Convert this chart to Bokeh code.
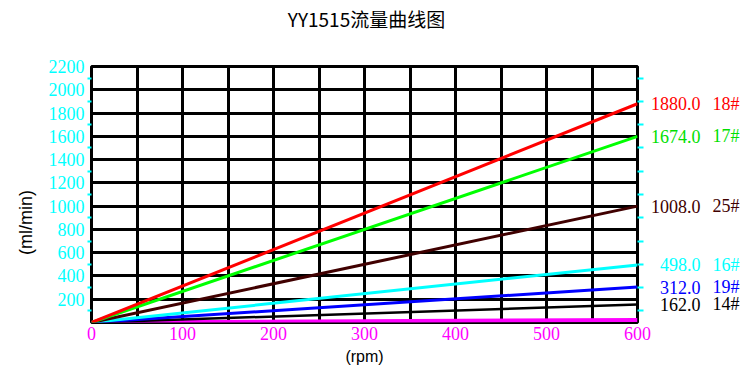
import math
from bokeh.plotting import figure
from bokeh.models import Range1d, FixedTicker, LinearAxis, ColumnDataSource
from bokeh.core.properties import value
from bokeh.embed import file_html
from bokeh.resources import INLINE

# ---- data ----
title_text = "YY1515流量曲线图"
y_label = "(ml/min)"
x_label = "(rpm)"

rpm = [0, 600]
red_18 = [0, 1880]
green_17 = [0, 1600]
brown_25 = [0, 1000]
cyan_16 = [0, 495]
blue_19 = [0, 305]
black_14 = [0, 155]
magenta = [0, 22]

end_values = [1880, 1600, 1000, 495, 305, 155]
flow_labels = ["1880.0", "1674.0", "1008.0", "498.0", "312.0", "162.0"]
model_labels = ["18#", "17#", "25#", "16#", "19#", "14#"]
label_colors = ["#ff0000", "#00e000", "#400000", "#00ffff", "#0000ff", "#000000"]

x_ticks = [0, 100, 200, 300, 400, 500, 600]
x_grid = list(range(0, 601, 50))
y_ticks = list(range(200, 2201, 200))
y_grid = list(range(0, 2201, 200))
y_minor = list(range(100, 2200, 200))

x_min, x_max = 0, 600
y_min, y_max = 0, 2200

p = figure(width=744, height=375, x_range=Range1d(x_min, x_max), y_range=Range1d(y_min, y_max),
           output_backend="svg", toolbar_location=None,
           min_border_left=91, min_border_right=107, min_border_top=66, min_border_bottom=53)

p.outline_line_color = "black"
p.outline_line_width = 3
p.outline_line_alpha = 1

# grids
p.xgrid.ticker = FixedTicker(ticks=x_grid)
p.ygrid.ticker = FixedTicker(ticks=y_grid)
for g in (p.xgrid, p.ygrid):
    g.grid_line_color = "black"
    g.grid_line_width = 3
    g.grid_line_alpha = 1

# x axis
xa = p.xaxis[0]
xa.ticker = FixedTicker(ticks=x_ticks)
xa.axis_line_color = None
xa.major_tick_line_color = None
xa.major_tick_out = 0
xa.major_tick_in = 0
xa.minor_tick_line_color = None
xa.minor_tick_out = 0
xa.major_label_text_color = "#ff00ff"
xa.major_label_text_font = "Liberation Serif"
xa.major_label_text_font_size = "18px"
xa.major_label_standoff = 4
xa.axis_label = x_label
xa.axis_label_text_font = "Liberation Sans"
xa.axis_label_text_font_size = "16px"
xa.axis_label_text_font_style = "normal"
xa.axis_label_text_color = "black"
xa.axis_label_standoff = 5

# y axis (left)
ya = p.yaxis[0]
ya.ticker = FixedTicker(ticks=y_ticks, minor_ticks=y_minor)
ya.axis_line_color = None
ya.major_tick_line_color = None
ya.major_tick_out = 0
ya.major_tick_in = 0
ya.minor_tick_line_color = "#00ffff"
ya.minor_tick_line_width = 2
ya.minor_tick_out = 4
ya.minor_tick_in = 0
ya.major_label_text_color = "#00ffff"
ya.major_label_text_font = "Liberation Serif"
ya.major_label_text_font_size = "18px"
ya.major_label_standoff = 3

# right axis with cyan ticks only
ra = LinearAxis(ticker=FixedTicker(ticks=[], minor_ticks=y_minor))
ra.axis_line_color = None
ra.major_tick_line_color = None
ra.minor_tick_line_color = "#00ffff"
ra.minor_tick_line_width = 2
ra.minor_tick_out = 6
ra.minor_tick_in = 0
p.add_layout(ra, "right")

# lines
p.line(rpm, magenta, line_color="#ff00ff", line_width=4)
p.line(rpm, black_14, line_color="#000000", line_width=2.5)
p.line(rpm, blue_19, line_color="#0000ff", line_width=3)
p.line(rpm, cyan_16, line_color="#00ffff", line_width=3)
p.line(rpm, brown_25, line_color="#400000", line_width=3)
p.line(rpm, green_17, line_color="#00ff00", line_width=3)
p.line(rpm, red_18, line_color="#ff0000", line_width=3)

src = ColumnDataSource(dict(x=[rpm[-1]] * len(end_values), y=end_values,
                            flow=flow_labels, model=model_labels, color=label_colors))
r1 = p.text(x="x", y="y", text="flow", source=src, x_offset=63, text_align="right",
            text_baseline="middle", text_color="color", text_font=value("Liberation Serif"),
            text_font_size="18px")
r2 = p.text(x="x", y="y", text="model", source=src, x_offset=75, text_align="left",
            text_baseline="middle", text_color="color", text_font=value("Liberation Serif"),
            text_font_size="18px")

# title and y label (outside the frame)
r3 = p.text(x=[(x_min + x_max) / 2], y=[y_max], text=[title_text], x_offset=2, y_offset=-48,
            text_align="center", text_baseline="middle", text_color="black",
            text_font=value("Noto Sans CJK SC"), text_font_size="19px")
r4 = p.text(x=[x_min], y=[y_min], text=[y_label], angle=math.pi / 2, x_offset=-66, y_offset=-100,
            text_align="center", text_baseline="middle", text_color="black",
            text_font=value("Liberation Sans"), text_font_size="18px")
for r in (r1, r2, r3, r4):
    r.level = "overlay"

open("out.html", "w").write(file_html(p, INLINE))
